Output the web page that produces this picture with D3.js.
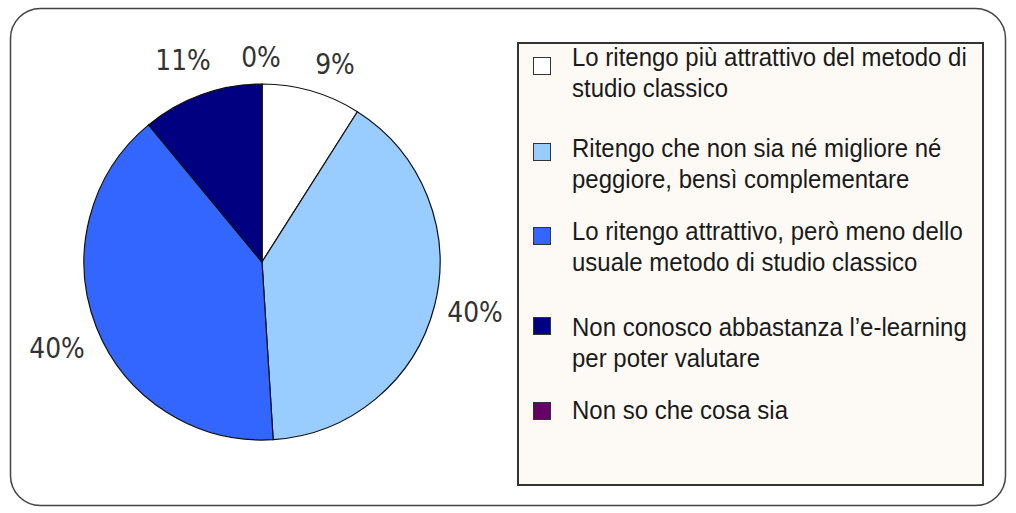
<!DOCTYPE html>
<html><head><meta charset="utf-8">
<script src="https://cdn.jsdelivr.net/npm/d3@7"></script>
<style>body{margin:0;background:#fff}svg{display:block}</style>
</head><body>
<svg id="c" width="1016" height="513"></svg>
<script>
const categories = [
  "Lo ritengo più attrattivo del metodo di|studio classico",
  "Ritengo che non sia né migliore né|peggiore, bensì complementare",
  "Lo ritengo attrattivo, però meno dello|usuale metodo di studio classico",
  "Non conosco abbastanza l’e-learning|per poter valutare",
  "Non so che cosa sia"
];
const values = [9, 40, 40, 11, 0];
const labels = ["9%", "40%", "40%", "11%", "0%"];
const colors = ["#ffffff", "#99ccff", "#3366ff", "#000080", "#660066"];

const svg = d3.select("#c");
svg.append("rect").attr("x",10.5).attr("y",8.5).attr("width",995).attr("height",497)
  .attr("rx",30).attr("fill","#fff").attr("stroke","#444").attr("stroke-width",1.5);

const cx = 262, cy = 262, r = 178;
const pie = d3.pie().sort(null).value(d=>d)(values);
const arc = d3.arc().innerRadius(0).outerRadius(r);
const g = svg.append("g").attr("transform",`translate(${cx},${cy})`);
g.selectAll("path").data(pie).join("path").attr("d",arc)
  .attr("fill",(d,i)=>colors[i]).attr("stroke","#111").attr("stroke-width",1.2);

// label anchor points (center x, baseline y)
const labelPos = [
  {x:335, y:74}, {x:475, y:322}, {x:57, y:358}, {x:183, y:70}, {x:261, y:67}
];
svg.selectAll("text.lbl").data(pie).join("text").attr("class","lbl")
  .attr("transform",(d,i)=>`translate(${labelPos[i].x},${labelPos[i].y}) scale(1,1.1)`)
  .attr("text-anchor","middle").attr("font-family","DejaVu Sans, sans-serif")
  .attr("font-size",25).attr("fill","#333").text((d,i)=>labels[i]);

// legend
svg.append("rect").attr("x",518).attr("y",43).attr("width",465).attr("height",442)
  .attr("fill","#fdfaf6").attr("stroke","#333").attr("stroke-width",2);
const baseY = [66, 157, 240, 336, 419];
const swY = [66, 152, 236, 326, 411];
const lg = svg.append("g");
categories.forEach((c,i)=>{
  lg.append("rect").attr("x",533.5).attr("y",swY[i]-8.5).attr("width",17).attr("height",17)
    .attr("fill",colors[i]).attr("stroke","#333").attr("stroke-width",1);
  c.split("|").forEach((line,j)=>{
    lg.append("text").attr("font-family","Liberation Sans, Arial, sans-serif")
      .attr("font-size",24).attr("fill","#1a1a1a")
      .attr("transform",`translate(572,${baseY[i]+j*31}) scale(1,1.1)`)
      .text(line);
  });
});
</script>
</body></html>
